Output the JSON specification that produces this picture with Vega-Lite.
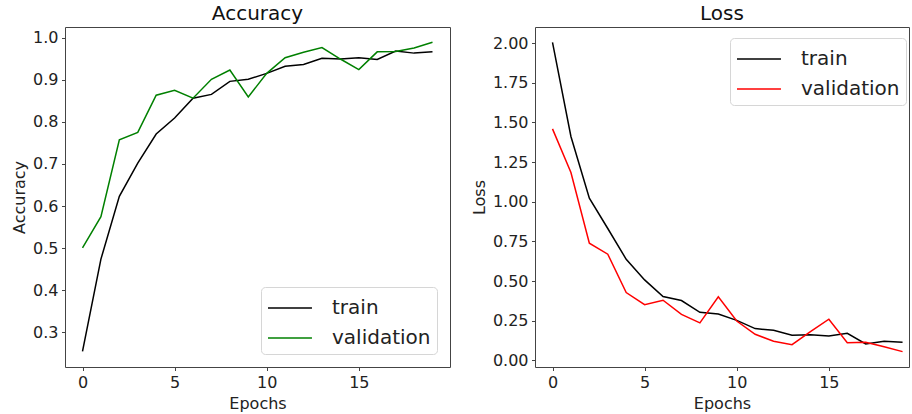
{
  "$schema": "https://vega.github.io/schema/vega-lite/v6.json",
  "padding": {"left": 11, "top": 3, "right": 0, "bottom": 0},
  "background": "white",
  "config": {
    "font": "DejaVu Sans",
    "view": {"stroke": "#444", "strokeWidth": 1},
    "axis": {
      "grid": false, "domain": false, "tickColor": "#444", "tickSize": 3.5, "tickWidth": 1,
      "labelFont": "DejaVu Sans", "labelFontSize": 16, "labelColor": "#222", "labelPadding": 3.5,
      "titleFont": "DejaVu Sans", "titleFontSize": 16, "titleFontWeight": "normal", "titleColor": "#222", "titlePadding": 5
    },
    "title": {"font": "DejaVu Sans", "fontSize": 20, "fontWeight": "normal", "color": "#111", "offset": 3},
    "legend": {
      "title": null, "symbolSize": 784, "symbolStrokeWidth": 1.5, "labelFontSize": 20, "labelFont": "DejaVu Sans",
      "labelColor": "#222", "labelOffset": 35, "rowPadding": 5, "padding": 6, "fillColor": "white",
      "strokeColor": "#d6d6d6", "cornerRadius": 4
    }
  },
  "datasets": {
    "acc": [
      {"epoch": 0, "series": "train", "value": 0.255},
      {"epoch": 1, "series": "train", "value": 0.474},
      {"epoch": 2, "series": "train", "value": 0.623},
      {"epoch": 3, "series": "train", "value": 0.702},
      {"epoch": 4, "series": "train", "value": 0.771},
      {"epoch": 5, "series": "train", "value": 0.809},
      {"epoch": 6, "series": "train", "value": 0.856},
      {"epoch": 7, "series": "train", "value": 0.865},
      {"epoch": 8, "series": "train", "value": 0.896},
      {"epoch": 9, "series": "train", "value": 0.901},
      {"epoch": 10, "series": "train", "value": 0.915},
      {"epoch": 11, "series": "train", "value": 0.932},
      {"epoch": 12, "series": "train", "value": 0.936},
      {"epoch": 13, "series": "train", "value": 0.951},
      {"epoch": 14, "series": "train", "value": 0.949},
      {"epoch": 15, "series": "train", "value": 0.952},
      {"epoch": 16, "series": "train", "value": 0.948},
      {"epoch": 17, "series": "train", "value": 0.968},
      {"epoch": 18, "series": "train", "value": 0.963},
      {"epoch": 19, "series": "train", "value": 0.966},
      {"epoch": 0, "series": "validation", "value": 0.501},
      {"epoch": 1, "series": "validation", "value": 0.575},
      {"epoch": 2, "series": "validation", "value": 0.757},
      {"epoch": 3, "series": "validation", "value": 0.775},
      {"epoch": 4, "series": "validation", "value": 0.863},
      {"epoch": 5, "series": "validation", "value": 0.875},
      {"epoch": 6, "series": "validation", "value": 0.856},
      {"epoch": 7, "series": "validation", "value": 0.901},
      {"epoch": 8, "series": "validation", "value": 0.923},
      {"epoch": 9, "series": "validation", "value": 0.859},
      {"epoch": 10, "series": "validation", "value": 0.915},
      {"epoch": 11, "series": "validation", "value": 0.952},
      {"epoch": 12, "series": "validation", "value": 0.965},
      {"epoch": 13, "series": "validation", "value": 0.976},
      {"epoch": 14, "series": "validation", "value": 0.949},
      {"epoch": 15, "series": "validation", "value": 0.924},
      {"epoch": 16, "series": "validation", "value": 0.966},
      {"epoch": 17, "series": "validation", "value": 0.967},
      {"epoch": 18, "series": "validation", "value": 0.975},
      {"epoch": 19, "series": "validation", "value": 0.989}
    ],
    "loss": [
      {"epoch": 0, "series": "train", "value": 2.004},
      {"epoch": 1, "series": "train", "value": 1.411},
      {"epoch": 2, "series": "train", "value": 1.022},
      {"epoch": 3, "series": "train", "value": 0.831},
      {"epoch": 4, "series": "train", "value": 0.637},
      {"epoch": 5, "series": "train", "value": 0.507},
      {"epoch": 6, "series": "train", "value": 0.402},
      {"epoch": 7, "series": "train", "value": 0.377},
      {"epoch": 8, "series": "train", "value": 0.303},
      {"epoch": 9, "series": "train", "value": 0.292},
      {"epoch": 10, "series": "train", "value": 0.252},
      {"epoch": 11, "series": "train", "value": 0.200},
      {"epoch": 12, "series": "train", "value": 0.189},
      {"epoch": 13, "series": "train", "value": 0.158},
      {"epoch": 14, "series": "train", "value": 0.162},
      {"epoch": 15, "series": "train", "value": 0.153},
      {"epoch": 16, "series": "train", "value": 0.170},
      {"epoch": 17, "series": "train", "value": 0.103},
      {"epoch": 18, "series": "train", "value": 0.120},
      {"epoch": 19, "series": "train", "value": 0.114},
      {"epoch": 0, "series": "validation", "value": 1.459},
      {"epoch": 1, "series": "validation", "value": 1.184},
      {"epoch": 2, "series": "validation", "value": 0.738},
      {"epoch": 3, "series": "validation", "value": 0.669},
      {"epoch": 4, "series": "validation", "value": 0.427},
      {"epoch": 5, "series": "validation", "value": 0.351},
      {"epoch": 6, "series": "validation", "value": 0.379},
      {"epoch": 7, "series": "validation", "value": 0.290},
      {"epoch": 8, "series": "validation", "value": 0.236},
      {"epoch": 9, "series": "validation", "value": 0.400},
      {"epoch": 10, "series": "validation", "value": 0.248},
      {"epoch": 11, "series": "validation", "value": 0.164},
      {"epoch": 12, "series": "validation", "value": 0.120},
      {"epoch": 13, "series": "validation", "value": 0.099},
      {"epoch": 14, "series": "validation", "value": 0.181},
      {"epoch": 15, "series": "validation", "value": 0.259},
      {"epoch": 16, "series": "validation", "value": 0.111},
      {"epoch": 17, "series": "validation", "value": 0.114},
      {"epoch": 18, "series": "validation", "value": 0.086},
      {"epoch": 19, "series": "validation", "value": 0.055}
    ]
  },
  "spacing": 19,
  "resolve": {"scale": {"color": "independent"}, "legend": {"color": "independent"}},
  "hconcat": [
    {
      "title": "Accuracy",
      "width": 385,
      "height": 340,
      "data": {"name": "acc"},
      "mark": {"type": "line", "strokeWidth": 1.5},
      "encoding": {
        "x": {"field": "epoch", "type": "quantitative", "title": "Epochs",
              "scale": {"domain": [-0.95, 19.95], "nice": false, "zero": false},
              "axis": {"values": [0, 5, 10, 15], "format": "d"}},
        "y": {"field": "value", "type": "quantitative", "title": "Accuracy",
              "scale": {"domain": [0.218, 1.025], "nice": false, "zero": false},
              "axis": {"values": [0.3, 0.4, 0.5, 0.6, 0.7, 0.8, 0.9, 1.0], "format": ".1f"}},
        "color": {"field": "series", "type": "nominal",
                  "scale": {"domain": ["train", "validation"], "range": ["black", "green"]},
                  "legend": {"orient": "none", "legendX": 196, "legendY": 260, "symbolType": "M-1,0L2.14,0"}}
      }
    },
    {
      "title": "Loss",
      "width": 374,
      "height": 340,
      "data": {"name": "loss"},
      "mark": {"type": "line", "strokeWidth": 1.5},
      "encoding": {
        "x": {"field": "epoch", "type": "quantitative", "title": "Epochs",
              "scale": {"domain": [-0.95, 19.35], "nice": false, "zero": false},
              "axis": {"values": [0, 5, 10, 15], "format": "d"}},
        "y": {"field": "value", "type": "quantitative", "title": "Loss",
              "scale": {"domain": [-0.042, 2.101], "nice": false, "zero": false},
              "axis": {"values": [0, 0.25, 0.5, 0.75, 1.0, 1.25, 1.5, 1.75, 2.0], "format": ".2f"}},
        "color": {"field": "series", "type": "nominal",
                  "scale": {"domain": ["train", "validation"], "range": ["black", "red"]},
                  "legend": {"orient": "none", "legendX": 195, "legendY": 11, "symbolType": "M-1,0L2.14,0"}}
      }
    }
  ]
}
